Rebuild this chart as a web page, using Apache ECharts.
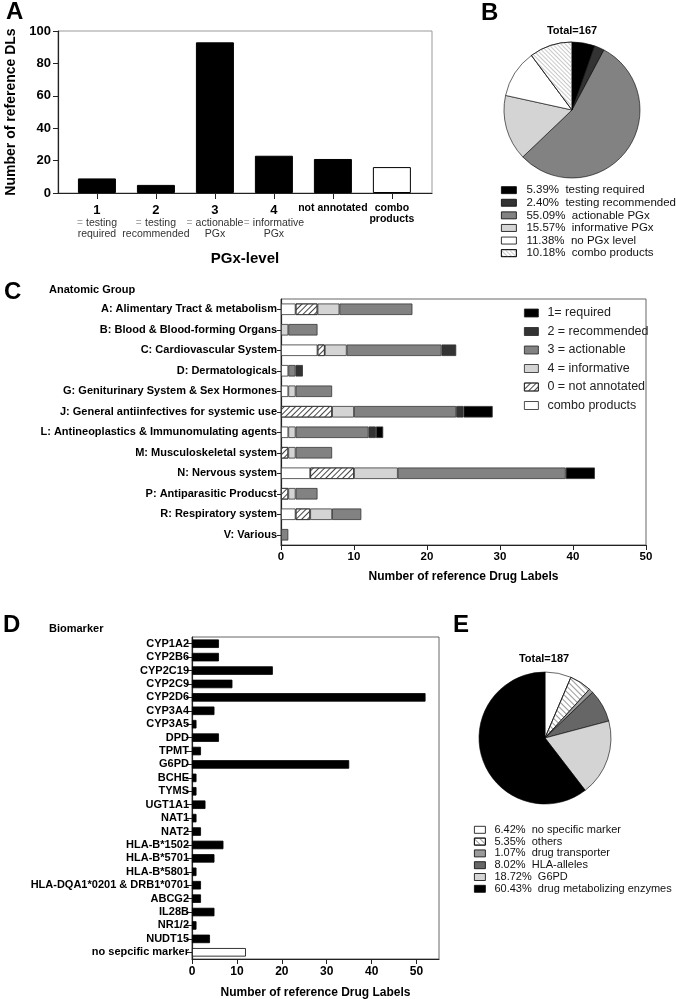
<!DOCTYPE html>
<html><head><meta charset="utf-8">
<script src="https://cdn.jsdelivr.net/npm/echarts@6/dist/echarts.min.js"></script>
<style>html,body{margin:0;padding:0;background:#fff}#c{width:676px;height:999px}</style>
</head><body><div id="c"></div>
<script>
// ---------- Panel A ----------
const pgxLevels = ['1', '2', '3', '4', 'not annotated', 'combo products'];
const pgxLevelSub = [['testing', 'required'], ['testing', 'recommended'], ['actionable', 'PGx'], ['informative', 'PGx'], [], []];
const pgxCounts = [9, 5, 93, 23, 21, 16];
const pgxTicks = [0, 20, 40, 60, 80, 100];

// ---------- Panel B ----------
const pieBNames = ['testing required', 'testing recommended', 'actionable PGx', 'informative PGx', 'no PGx level', 'combo products'];
const pieBPct = [5.39, 2.40, 55.09, 15.57, 11.38, 10.18];

// ---------- Panel C ----------
const anatomicGroups = [
  'A: Alimentary Tract & metabolism', 'B: Blood & Blood-forming Organs', 'C: Cardiovascular System',
  'D: Dermatologicals', 'G: Geniturinary System & Sex Hormones', 'J: General antiinfectives for systemic use',
  'L: Antineoplastics & Immunomulating agents', 'M: Musculoskeletal system', 'N: Nervous system',
  'P: Antiparasitic Producst', 'R: Respiratory system', 'V: Various'];
const cCombo        = [2, 0, 5, 1, 1, 0, 1, 0, 4, 0, 2, 0];
const cNotAnnotated = [3, 0, 1, 0, 0, 7, 0, 1, 6, 1, 2, 0];
const cInformative  = [3, 1, 3, 0, 1, 3, 1, 1, 6, 1, 3, 0];
const cActionable   = [10, 4, 13, 1, 5, 14, 10, 5, 23, 3, 4, 1];
const cRecommended  = [0, 0, 2, 1, 0, 1, 1, 0, 0, 0, 0, 0];
const cRequired     = [0, 0, 0, 0, 0, 4, 1, 0, 4, 0, 0, 0];
const cLegendNames = ['1= required', '2 = recommended', '3 = actionable', '4 = informative', '0 = not annotated', 'combo products'];
const cTicks = [0, 10, 20, 30, 40, 50];

// ---------- Panel D ----------
const biomarkers = ['CYP1A2', 'CYP2B6', 'CYP2C19', 'CYP2C9', 'CYP2D6', 'CYP3A4', 'CYP3A5', 'DPD', 'TPMT', 'G6PD',
  'BCHE', 'TYMS', 'UGT1A1', 'NAT1', 'NAT2', 'HLA-B*1502', 'HLA-B*5701', 'HLA-B*5801',
  'HLA-DQA1*0201 & DRB1*0701', 'ABCG2', 'IL28B', 'NR1/2', 'NUDT15', 'no sepcific marker'];
const biomarkerCounts = [6, 6, 18, 9, 52, 5, 1, 6, 2, 35, 1, 1, 3, 1, 2, 7, 5, 1, 2, 2, 5, 1, 4, 12];
const dTicks = [0, 10, 20, 30, 40, 50];

// ---------- Panel E ----------
const pieENames = ['no specific marker', 'others', 'drug transporter', 'HLA-alleles', 'G6PD', 'drug metabolizing enzymes'];
const pieEPct = [6.42, 5.35, 1.07, 8.02, 18.72, 60.43];

// ---------- styling ----------
const FONT = '"Liberation Sans", Arial, Helvetica, sans-serif';
const NARROW = '"Liberation Sans Narrow", "Arial Narrow", "Liberation Sans", Arial, sans-serif';
const hatch = (col, gap, rot) => ({ symbol: 'rect', symbolSize: 1, color: col, backgroundColor: 'rgba(0,0,0,0)',
  dashArrayX: [1, 0], dashArrayY: [1, gap], rotation: rot });

const pctLabel = (p, n) => p.toFixed(2) + '%  ' + n;
const pieBLabels = pieBNames.map((n, i) => pctLabel(pieBPct[i], n));
const pieELabels = pieENames.map((n, i) => pctLabel(pieEPct[i], n));

const pieBStyles = [
  { color: '#000' }, { color: '#333' }, { color: '#828282' }, { color: '#d4d4d4' },
  { color: '#fff' }, { color: '#fff', decal: hatch('#c8c8c8', 2, Math.PI / 4) }];
const pieEStyles = [
  { color: '#fff' }, { color: '#fff', decal: hatch('#999', 2.5, Math.PI / 4) }, { color: '#9a9a9a' },
  { color: '#666' }, { color: '#d4d4d4' }, { color: '#000' }];

const aPos = pgxLevels.map((_, i) => i + 1);

function aLabel(v) {
  const i = Math.round(v) - 1;
  const name = pgxLevels[i];
  const sub = pgxLevelSub[i];
  if (sub && sub.length) {
    return '{n|' + name + '}\n{e|=} {t|' + sub[0] + '}\n{t|' + sub[1] + '}';
  }
  return name === 'combo products' ? '{b|combo}\n{b|products}' : '{b|' + name + '}';
}

const zeroToDash = arr => arr.map(v => (v === 0 ? '-' : v));
const cSeriesDefs = [
  { name: 'combo products', data: cCombo, style: { color: '#fff' } },
  { name: '0 = not annotated', data: cNotAnnotated, style: { color: '#fff', decal: hatch('#444', 2.5, -Math.PI / 4) } },
  { name: '4 = informative', data: cInformative, style: { color: '#d4d4d4' } },
  { name: '3 = actionable', data: cActionable, style: { color: '#828282' } },
  { name: '2 = recommended', data: cRecommended, style: { color: '#333' } },
  { name: '1= required', data: cRequired, style: { color: '#000' } }
];

const axisLineStyle = { color: '#222', width: 1.2 };

const option = {
  animation: false,
  textStyle: { fontFamily: FONT },
  grid: [
    { left: 58, right: 244, top: 31, height: 162, show: true, borderColor: '#999', borderWidth: 1, containLabel: false, outerBoundsMode: 'none' },
    { left: 281, right: 30, top: 299, bottom: 454, show: true, borderColor: '#666', borderWidth: 1, containLabel: false, outerBoundsMode: 'none' },
    { left: 192, right: 237, top: 637, bottom: 40, show: true, borderColor: '#666', borderWidth: 1, containLabel: false, outerBoundsMode: 'none' }
  ],
  xAxis: [
    {
      gridIndex: 0, type: 'value', min: 0.34, max: 6.68,
      axisLine: { show: true, onZero: false, lineStyle: axisLineStyle },
      axisTick: { show: true, length: 6, customValues: aPos, lineStyle: { color: '#222' } },
      axisLabel: {
        customValues: aPos, margin: 10, formatter: aLabel, color: '#000',
        rich: {
          n: { fontSize: 13, fontWeight: 'bold', color: '#000', lineHeight: 14 },
          e: { fontSize: 10, color: '#aaa', lineHeight: 11 },
          t: { fontSize: 10.5, color: '#333', lineHeight: 11 },
          b: { fontSize: 10.5, fontWeight: 'bold', color: '#000', lineHeight: 11 }
        }
      },
      splitLine: { show: false },
      name: 'PGx-level', nameLocation: 'middle', nameGap: 58,
      nameTextStyle: { fontWeight: 'bold', fontSize: 15, color: '#000' }
    },
    {
      gridIndex: 1, type: 'value', min: cTicks[0], max: cTicks[cTicks.length - 1], interval: cTicks[1] - cTicks[0],
      axisLine: { show: true, onZero: false, lineStyle: axisLineStyle },
      axisTick: { show: true, length: 5, lineStyle: { color: '#222' } },
      axisLabel: { fontWeight: 'bold', fontSize: 11.5, color: '#000', margin: 6, fontFamily: NARROW },
      splitLine: { show: false },
      name: 'Number of reference Drug Labels', nameLocation: 'middle', nameGap: 26,
      nameTextStyle: { fontWeight: 'bold', fontSize: 12, color: '#000', fontFamily: NARROW }
    },
    {
      gridIndex: 2, type: 'value', min: 0, max: 55, interval: dTicks[1] - dTicks[0],
      axisLine: { show: true, onZero: false, lineStyle: axisLineStyle },
      axisTick: { show: true, length: 5, lineStyle: { color: '#222' } },
      axisLabel: { fontWeight: 'bold', fontSize: 12, color: '#000', margin: 7, showMaxLabel: false },
      splitLine: { show: false },
      name: 'Number of reference Drug Labels', nameLocation: 'middle', nameGap: 28,
      nameTextStyle: { fontWeight: 'bold', fontSize: 12, color: '#000' }
    }
  ],
  yAxis: [
    {
      gridIndex: 0, type: 'value', min: pgxTicks[0], max: pgxTicks[pgxTicks.length - 1], interval: pgxTicks[1] - pgxTicks[0],
      axisLine: { show: true, onZero: false, lineStyle: axisLineStyle },
      axisTick: { show: true, length: 5, lineStyle: { color: '#222' } },
      axisLabel: { fontWeight: 'bold', fontSize: 13, color: '#000', margin: 7 },
      splitLine: { show: false },
      name: 'Number of reference DLs', nameLocation: 'middle', nameGap: 33, nameRotate: 90,
      nameTextStyle: { fontWeight: 'bold', fontSize: 14, color: '#000' }
    },
    {
      gridIndex: 1, type: 'category', data: anatomicGroups, inverse: true,
      axisLine: { show: true, onZero: false, lineStyle: axisLineStyle },
      axisTick: { show: true, length: 4, alignWithLabel: true, lineStyle: { color: '#222' } },
      axisLabel: { fontWeight: 'bold', fontSize: 11, color: '#000', margin: 4, fontFamily: NARROW }
    },
    {
      gridIndex: 2, type: 'category', data: biomarkers, inverse: true,
      axisLine: { show: true, onZero: false, lineStyle: axisLineStyle },
      axisTick: { show: true, length: 6, alignWithLabel: true, lineStyle: { color: '#222' } },
      axisLabel: { fontWeight: 'bold', fontSize: 11, color: '#000', margin: 3, interval: 0 }
    }
  ],
  legend: [
    {
      data: pieBLabels, left: 496, top: 179, orient: 'vertical', selectedMode: false, icon: 'rect',
      itemWidth: 15, itemHeight: 7, itemGap: 0.3,
      itemStyle: { borderColor: '#000', borderWidth: 0.8 },
      textStyle: { fontSize: 11.5, color: '#111', lineHeight: 12.3, padding: [0, 0, 0, 5] }
    },
    {
      data: cLegendNames, left: 519, top: 301, orient: 'vertical', selectedMode: false, icon: 'rect',
      itemWidth: 14, itemHeight: 8, itemGap: 4.5,
      itemStyle: { borderColor: '#222', borderWidth: 0.8 },
      textStyle: { fontSize: 12.5, color: '#222', lineHeight: 14, fontFamily: NARROW, padding: [0, 0, 0, 4] }
    },
    {
      data: pieELabels, left: 469, top: 819, orient: 'vertical', selectedMode: false, icon: 'rect',
      itemWidth: 11, itemHeight: 7, itemGap: 0.2,
      itemStyle: { borderColor: '#000', borderWidth: 0.8 },
      textStyle: { fontSize: 11, color: '#111', lineHeight: 11.6, padding: [0, 0, 0, 4] }
    }
  ],
  series: [
    {
      type: 'bar', xAxisIndex: 0, yAxisIndex: 0, barWidth: 38, silent: true,
      data: pgxCounts.map((v, i) => ({
        value: [aPos[i], v],
        itemStyle: { color: pgxLevels[i] === 'combo products' ? '#fff' : '#000', borderColor: '#000', borderWidth: 1 }
      }))
    },
    {
      type: 'pie', center: [572, 110], radius: 68, startAngle: 90, clockwise: true, silent: true,
      label: { show: false }, labelLine: { show: false }, emphasis: { disabled: true },
      itemStyle: { borderColor: '#000', borderWidth: 0.6 },
      data: pieBLabels.map((n, i) => ({ name: n, value: pieBPct[i], itemStyle: pieBStyles[i] }))
    },
    ...cSeriesDefs.map(d => ({
      type: 'bar', name: d.name, xAxisIndex: 1, yAxisIndex: 1, stack: 'c', barWidth: 11.5, silent: true,
      itemStyle: Object.assign({ borderColor: '#333', borderWidth: 0.8 }, d.style),
      data: zeroToDash(d.data)
    })),
    {
      type: 'bar', xAxisIndex: 2, yAxisIndex: 2, barWidth: 8.5, silent: true,
      data: biomarkerCounts.map((v, i) => ({
        value: v,
        itemStyle: { color: biomarkers[i] === 'no sepcific marker' ? '#fff' : '#000', borderColor: '#000', borderWidth: 0.8 }
      }))
    },
    {
      type: 'pie', center: [545, 738], radius: 66, startAngle: 90, clockwise: true, silent: true,
      label: { show: false }, labelLine: { show: false }, emphasis: { disabled: true },
      itemStyle: { borderColor: '#000', borderWidth: 0.6 },
      data: pieELabels.map((n, i) => ({ name: n, value: pieEPct[i], itemStyle: pieEStyles[i] }))
    }
  ],
  graphic: [
    { type: 'text', left: 6, top: 0, style: { text: 'A', font: 'bold 24px ' + FONT, fill: '#000' } },
    { type: 'text', left: 481, top: 1, style: { text: 'B', font: 'bold 24px ' + FONT, fill: '#000' } },
    { type: 'text', left: 4, top: 280, style: { text: 'C', font: 'bold 24px ' + FONT, fill: '#000' } },
    { type: 'text', left: 3, top: 613, style: { text: 'D', font: 'bold 24px ' + FONT, fill: '#000' } },
    { type: 'text', left: 453, top: 613, style: { text: 'E', font: 'bold 24px ' + FONT, fill: '#000' } },
    { type: 'text', left: 49, top: 284, style: { text: 'Anatomic Group', font: 'bold 11px ' + FONT, fill: '#000' } },
    { type: 'text', left: 49, top: 623, style: { text: 'Biomarker', font: 'bold 11px ' + FONT, fill: '#000' } },
    { type: 'text', x: 572, y: 31, style: { text: 'Total=167', font: 'bold 11px ' + FONT, fill: '#000', align: 'center', verticalAlign: 'middle' } },
    { type: 'text', x: 544, y: 659, style: { text: 'Total=187', font: 'bold 11px ' + FONT, fill: '#000', align: 'center', verticalAlign: 'middle' } }
  ]
};

const chart = echarts.init(document.getElementById('c'), null, { renderer: 'canvas' });
chart.setOption(option);
</script>
</body></html>
